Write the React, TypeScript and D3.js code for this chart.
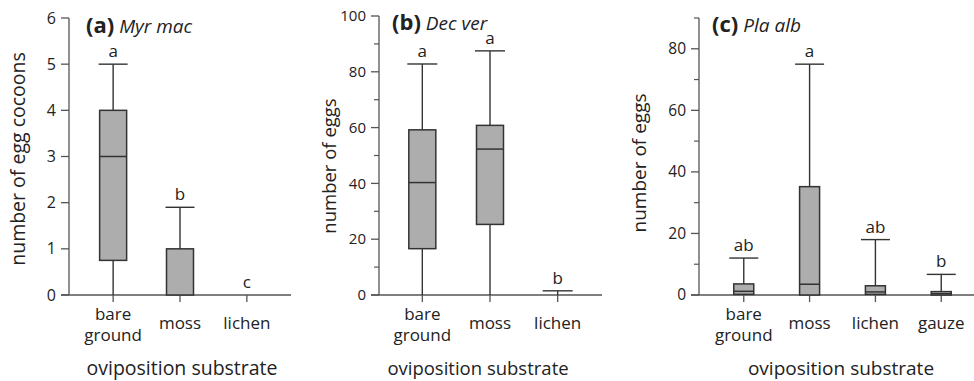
import React from "react";
import * as d3 from "d3";

// ---------- data ----------
const catsA = ["bare ground", "moss", "lichen"];
const loA = [0, 0, 0];
const q1A = [0.75, 0, 0];
const medA = [3, 0, 0];
const q3A = [4, 1, 0];
const hiA = [5, 1.9, 0];
const lettersA = ["a", "b", "c"];
const ticksA = [0, 1, 2, 3, 4, 5, 6];

const catsB = ["bare ground", "moss", "lichen"];
const loB = [0, 0, 0];
const q1B = [16.6, 25.3, 0];
const medB = [40.3, 52.3, 0];
const q3B = [59.2, 60.8, 0];
const hiB = [82.8, 87.5, 1.5];
const lettersB = ["a", "a", "b"];
const ticksB = [0, 20, 40, 60, 80, 100];
const minorB = [10, 30, 50, 70, 90];

const catsC = ["bare ground", "moss", "lichen", "gauze"];
const loC = [0, 0, 0, 0];
const q1C = [0.2, 0, 0.2, 0];
const medC = [1.2, 3.5, 1.0, 0.4];
const q3C = [3.6, 35.2, 3.0, 1.1];
const hiC = [12, 75, 18, 6.7];
const lettersC = ["ab", "a", "ab", "b"];
const ticksC = [0, 20, 40, 60, 80];
const minorC = [10, 30, 50, 70, 90];

const FONT = "'Open Sans', 'DejaVu Sans', sans-serif";
const TEXT = "#222";
const AXIS = "#555";
const BOXSTROKE = "#333";
const FILL = "#adadad";

type PanelProps = {
  cats: string[]; lo: number[]; q1: number[]; med: number[]; q3: number[]; hi: number[];
  letters: string[]; ticks: number[]; minor: number[]; yMax: number;
  axisX: number; yTop: number; yBottom: number; xEnd: number; rangeEnd: number; padding: number;
  boxW: number; capW: number; tickFont: number; catFont: number; titleFont: number; speciesFont: number;
  yLabelFont: number; letterFont: number;
  tag: string; species: string; titleX: number; titleY: number;
  yLabel: string; yLabelX: number; yLabelY: number; xTitleX: number;
};

function Panel(p: PanelProps) {
  const y = d3.scaleLinear().domain([0, p.yMax]).range([p.yBottom, p.yTop]);
  const x = d3.scalePoint<string>().domain(p.cats).range([p.axisX, p.rangeEnd]).padding(p.padding);
  return (
    <g fontFamily={FONT} fill={TEXT}>
      {/* y axis */}
      <line x1={p.axisX} x2={p.axisX} y1={y(p.yMax)} y2={p.yBottom} stroke={AXIS} strokeWidth={1.3} />
      {p.ticks.map((t) => (
        <g key={"t" + t}>
          <line x1={p.axisX - 8} x2={p.axisX} y1={y(t)} y2={y(t)} stroke={AXIS} strokeWidth={1.3} />
          <text x={p.axisX - 13} y={y(t)} dy="0.35em" textAnchor="end" fontSize={p.tickFont}>{t}</text>
        </g>
      ))}
      {p.minor.map((t) => (
        <line key={"m" + t} x1={p.axisX - 5} x2={p.axisX} y1={y(t)} y2={y(t)} stroke={AXIS} strokeWidth={1.2} />
      ))}
      {/* x axis */}
      <line x1={p.axisX - 8} x2={p.xEnd} y1={p.yBottom} y2={p.yBottom} stroke={AXIS} strokeWidth={1.3} />
      {p.cats.map((c) => (
        <line key={"xt" + c} x1={x(c)!} x2={x(c)!} y1={p.yBottom} y2={p.yBottom + 7} stroke={AXIS} strokeWidth={1.3} />
      ))}
      {p.cats.map((c) => {
        const parts = c.split(" ");
        const cx = x(c)!;
        if (parts.length === 2) {
          return (
            <g key={"cl" + c}>
              <text x={cx} y={p.yBottom + 25} textAnchor="middle" fontSize={p.catFont}>{parts[0]}</text>
              <text x={cx} y={p.yBottom + 46} textAnchor="middle" fontSize={p.catFont}>{parts[1]}</text>
            </g>
          );
        }
        return (
          <text key={"cl" + c} x={cx} y={p.yBottom + 34} textAnchor="middle" fontSize={p.catFont}>{c}</text>
        );
      })}
      {/* boxes */}
      {p.cats.map((c, i) => {
        const cx = x(c)!;
        const hasBox = p.q3[i] > p.q1[i];
        return (
          <g key={"b" + c}>
            {p.hi[i] > p.lo[i] && (
              <line x1={cx} x2={cx} y1={y(p.hi[i])} y2={y(p.lo[i])} stroke={BOXSTROKE} strokeWidth={1.4} />
            )}
            {p.hi[i] > 0 && (
              <line x1={cx - p.capW / 2} x2={cx + p.capW / 2} y1={y(p.hi[i])} y2={y(p.hi[i])} stroke={BOXSTROKE} strokeWidth={1.4} />
            )}
            {hasBox && (
              <rect x={cx - p.boxW / 2} width={p.boxW} y={y(p.q3[i])} height={y(p.q1[i]) - y(p.q3[i])}
                fill={FILL} stroke={BOXSTROKE} strokeWidth={1.5} />
            )}
            {hasBox && p.med[i] > p.q1[i] && (
              <line x1={cx - p.boxW / 2} x2={cx + p.boxW / 2} y1={y(p.med[i])} y2={y(p.med[i])} stroke={BOXSTROKE} strokeWidth={1.5} />
            )}
            <text x={cx} y={y(p.hi[i]) - 7} textAnchor="middle" fontSize={p.letterFont}>{p.letters[i]}</text>
          </g>
        );
      })}
      {/* title */}
      <text x={p.titleX} y={p.titleY}>
        <tspan fontWeight="bold" fontSize={p.titleFont}>{p.tag}</tspan>
        <tspan fontStyle="italic" fontSize={p.speciesFont} dx={5}>{p.species}</tspan>
      </text>
      {/* axis titles */}
      <text transform={`translate(${p.yLabelX},${p.yLabelY}) rotate(-90)`} textAnchor="middle" fontSize={p.yLabelFont}>{p.yLabel}</text>
      <text x={p.xTitleX} y={375} textAnchor="middle" fontSize={p.yLabelFont}>oviposition substrate</text>
    </g>
  );
}

export default function App() {
  return (
    <svg width={974} height={381} style={{ position: "absolute", left: 0, top: 0, background: "#fff" }}>
      <rect width={974} height={381} fill="#fff" />
      <Panel cats={catsA} lo={loA} q1={q1A} med={medA} q3={q3A} hi={hiA} letters={lettersA}
        ticks={ticksA} minor={[]} yMax={6} axisX={69} yTop={18} yBottom={295} xEnd={291} rangeEnd={291} padding={0.66}
        boxW={27} capW={29} tickFont={16} catFont={17} titleFont={22} speciesFont={19} yLabelFont={19.5} letterFont={17}
        tag="(a)" species="Myr mac" titleX={86} titleY={33}
        yLabel="number of egg cocoons" yLabelX={25} yLabelY={159} xTitleX={182} />
      <Panel cats={catsB} lo={loB} q1={q1B} med={medB} q3={q3B} hi={hiB} letters={lettersB}
        ticks={ticksB} minor={minorB} yMax={100} axisX={379} yTop={16} yBottom={295} xEnd={602} rangeEnd={601} padding={0.64}
        boxW={27} capW={30} tickFont={15} catFont={17} titleFont={22} speciesFont={19} yLabelFont={18.5} letterFont={17}
        tag="(b)" species="Dec ver" titleX={392} titleY={30}
        yLabel="number of eggs" yLabelX={336} yLabelY={166} xTitleX={478} />
      <Panel cats={catsC} lo={loC} q1={q1C} med={medC} q3={q3C} hi={hiC} letters={lettersC}
        ticks={ticksC} minor={minorC} yMax={90} axisX={699} yTop={18} yBottom={295} xEnd={974} rangeEnd={986} padding={0.68}
        boxW={20} capW={29} tickFont={15.5} catFont={17} titleFont={22} speciesFont={19} yLabelFont={19} letterFont={17}
        tag="(c)" species="Pla alb" titleX={712} titleY={32}
        yLabel="number of eggs" yLabelX={646} yLabelY={163} xTitleX={841} />
    </svg>
  );
}
